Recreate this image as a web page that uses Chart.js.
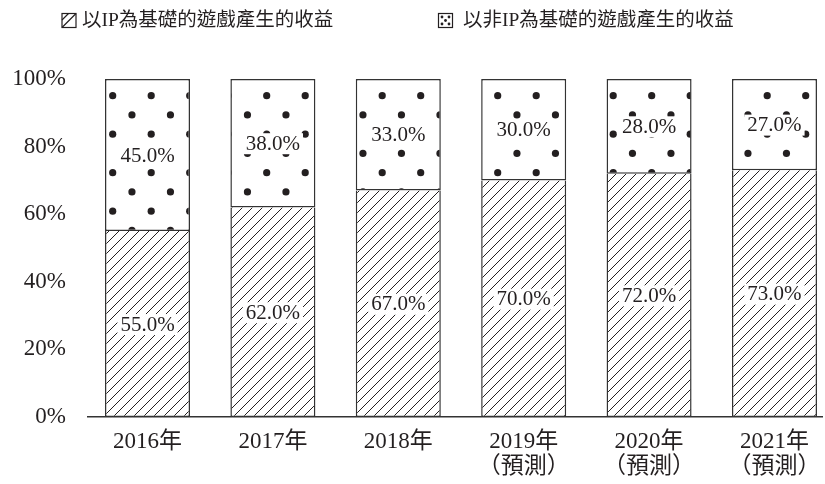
<!DOCTYPE html>
<html>
<head>
<meta charset="utf-8">
<script src="https://cdn.jsdelivr.net/npm/chart.js@4.4.1/dist/chart.umd.min.js"></script>
<style>
    html, body { margin: 0; padding: 0; background: #fff; }
    canvas { display: block; }
</style>
</head>
<body>
<canvas id="chart" width="825" height="484"></canvas>
<script>
// =====
// Data
// =====
const categories = [['2016年'], ['2017年'], ['2018年'], ['2019年', '（預測）'], ['2020年', '（預測）'], ['2021年', '（預測）']];
const ipShare = [55, 62, 67, 70, 72, 73];
const nonIpShare = [45, 38, 33, 30, 28, 27];
const seriesNames = ['以IP為基礎的遊戲產生的收益', '以非IP為基礎的遊戲產生的收益'];
const yTicks = [0, 20, 40, 60, 80, 100];

const INK = '#231f20';
const FONT = '"Liberation Serif", "Noto Sans CJK TC", serif';

const canvas = document.getElementById('chart');
const ctx = canvas.getContext('2d');

// ========
// Patterns
// ========
function makeHatch() {
    const size = 10;
    const c = document.createElement('canvas');
    c.width = size;
    c.height = size;
    const g = c.getContext('2d');
    g.fillStyle = '#fff';
    g.fillRect(0, 0, size, size);
    g.strokeStyle = INK;
    g.lineWidth = 1;
    g.beginPath();
    for (let k = -1; k <= 1; k++) {
        g.moveTo(k * size, size);
        g.lineTo(k * size + size, 0);
    }
    g.stroke();
    return ctx.createPattern(c, 'repeat');
}

function makeDots() {
    const size = 77;
    const step = size / 2;
    const c = document.createElement('canvas');
    c.width = size;
    c.height = size;
    const g = c.getContext('2d');
    g.fillStyle = '#fff';
    g.fillRect(0, 0, size, size);
    g.fillStyle = INK;
    const x0 = 35.7, y0 = 18.7;
    for (let i = -2; i <= 2; i++) {
        for (let j = -2; j <= 2; j++) {
            [[x0, y0], [x0 + step / 2, y0 + step / 2]].forEach(([px, py]) => {
                g.beginPath();
                g.arc(px + i * step, py + j * step, 3.6, 0, Math.PI * 2);
                g.fill();
            });
        }
    }
    return ctx.createPattern(c, 'repeat');
}

const hatch = makeHatch();
const dots = makeDots();

// ======
// Legend
// ======
const legendPlugin = {
    id: 'customLegend',
    afterDraw(chart) {
        const c = chart.ctx;
        c.save();
        c.lineWidth = 1.2;
        c.strokeStyle = INK;

        // hatched box
        c.fillStyle = '#fff';
        c.fillRect(62, 13.5, 14, 14);
        c.strokeRect(62, 13.5, 14, 14);
        c.beginPath();
        c.moveTo(62, 27.5); c.lineTo(76, 13.5);
        c.moveTo(62, 20); c.lineTo(68.5, 13.5);
        c.stroke();

        // dotted box
        c.strokeRect(438.5, 13.5, 14, 14);
        c.fillStyle = INK;
        [[442, 17], [449, 17], [445.5, 20.5], [442, 24], [449, 24]].forEach(([x, y]) => {
            c.beginPath();
            c.arc(x, y, 1.4, 0, Math.PI * 2);
            c.fill();
        });

        c.font = '19.5px ' + FONT;
        c.textBaseline = 'middle';
        c.textAlign = 'left';
        c.fillText(seriesNames[0], 82, 21);
        c.fillText(seriesNames[1], 463, 21);
        c.restore();
    }
};

// ============
// Value labels
// ============
const labelPlugin = {
    id: 'valueLabels',
    afterDatasetsDraw(chart) {
        const c = chart.ctx;
        c.save();
        c.font = '21px ' + FONT;
        c.textAlign = 'center';
        c.textBaseline = 'middle';
        chart.data.datasets.forEach((ds, di) => {
            chart.getDatasetMeta(di).data.forEach((bar, i) => {
                const text = ds.data[i].toFixed(1) + '%';
                const y = (bar.y + bar.base) / 2;
                const w = c.measureText(text).width + 6;
                c.fillStyle = '#fff';
                c.fillRect(bar.x - w / 2, y - 10, w, 21);
                c.fillStyle = INK;
                c.fillText(text, bar.x, y + 1);
            });
        });
        c.restore();
    }
};

const barStyle = {
    borderColor: '#333',
    borderWidth: 1.5,
    categoryPercentage: 1,
    barPercentage: 0.678,
    clip: false
};

new Chart(ctx, {
    type: 'bar',
    data: {
        labels: categories.map((_, i) => i),
        datasets: [
            Object.assign({ label: seriesNames[0], data: ipShare, backgroundColor: hatch, borderSkipped: 'top' }, barStyle),
            Object.assign({ label: seriesNames[1], data: nonIpShare, backgroundColor: dots, borderSkipped: false }, barStyle)
        ]
    },
    options: {
        responsive: false,
        animation: false,
        layout: { padding: { top: 79, right: 3, left: 0, bottom: 0 } },
        plugins: {
            legend: { display: false },
            tooltip: { enabled: false }
        },
        scales: {
            x: {
                type: 'linear',
                stacked: true,
                offset: false,
                min: -0.4745,
                max: 5.379,
                grid: { display: false, drawTicks: false },
                border: { display: true, color: '#333', width: 1.5 },
                afterBuildTicks(scale) { scale.ticks = categories.map((_, i) => ({ value: i })); },
                afterFit(scale) {
                    scale.height = 67;
                    scale.paddingLeft = 0;
                    scale.paddingRight = 0;
                },
                ticks: {
                    color: INK,
                    padding: 12,
                    maxRotation: 0,
                    autoSkip: false,
                    font: { family: FONT, size: 23, lineHeight: 1.1 },
                    callback: v => categories[v]
                }
            },
            y: {
                stacked: true,
                min: yTicks[0],
                max: yTicks[yTicks.length - 1],
                grid: { display: false, drawTicks: false },
                border: { display: false },
                afterBuildTicks(scale) { scale.ticks = yTicks.map(v => ({ value: v })); },
                afterFit(scale) { scale.width = 88; },
                ticks: {
                    color: INK,
                    padding: 22,
                    font: { family: FONT, size: 23 },
                    callback: v => v + '%'
                }
            }
        }
    },
    plugins: [labelPlugin, legendPlugin]
});
</script>
</body>
</html>
